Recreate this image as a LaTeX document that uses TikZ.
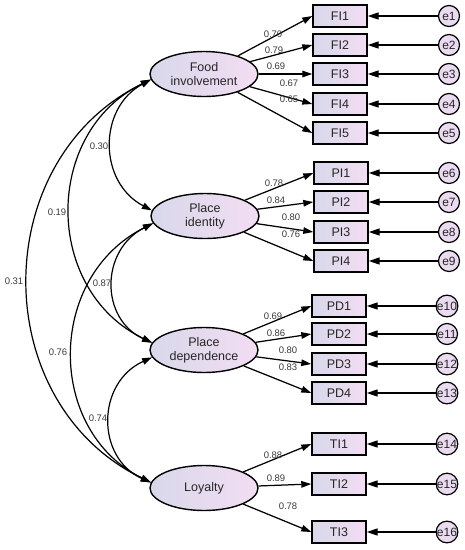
\documentclass[tikz,border=0pt]{standalone}
\usepackage{fontspec}
\setmainfont{Liberation Sans}
\usetikzlibrary{arrows.meta,shapes.geometric}
\definecolor{txt}{HTML}{262626}
\definecolor{lab}{HTML}{3A3A3A}
\definecolor{fl}{HTML}{D8D8EA}
\definecolor{fr}{HTML}{F3DDF3}
\tikzset{
  latent/.style={ellipse, draw=black, line width=1.4pt, minimum width=108pt, minimum height=45pt,
    inner sep=0pt, left color=fl, right color=fr, text=txt, font=\fontsize{12.5}{14}\selectfont, align=center},
  obs/.style={rectangle, draw=black, line width=1.4pt, minimum width=54pt, minimum height=22pt,
    inner sep=0pt, left color=fl, right color=fr, text=txt, font=\fontsize{12.5}{13}\selectfont},
  err/.style={circle, draw=black, line width=1.2pt, minimum size=21pt, inner sep=0pt,
    fill=fr!70!fl, text=txt, font=\fontsize{12}{12}\selectfont},
  load/.style={-{Triangle[length=10pt,width=6.5pt]}, line width=1.25pt},
  erra/.style={-{Triangle[length=11pt,width=7pt]}, line width=1.25pt},
  cov/.style={{Triangle[length=10pt,width=6.5pt]}-{Triangle[length=10pt,width=6.5pt]}, line width=1.2pt},
  num/.style={text=lab, font=\fontsize{9.5}{10}\selectfont, inner sep=0pt}
}
\begin{document}
\begin{tikzpicture}[x=1pt,y=-1pt]
\useasboundingbox (0,0) rectangle (465,550);
% latent variables
\node[latent] (FI) at (204,74) {Food\\involvement};
\node[latent] (PI) at (205,216) {Place\\identity};
\node[latent] (PD) at (204,350) {Place\\dependence};
\node[latent] (LO) at (204,488) {Loyalty};
% observed
\foreach \n/\y in {1/16,2/45,3/74,4/104,5/133}{
  \node[obs] (FI\n) at (340,\y) {FI\n};
  \node[err] (e\n) at (449,\y) {e\n};
  \draw[erra] (e\n) -- (FI\n.east);
  \draw[load] (FI) -- (FI\n.west);
}
\foreach \n/\y/\e in {1/173/6,2/202/7,3/232/8,4/261/9}{
  \node[obs] (PI\n) at (341,\y) {PI\n};
  \node[err] (e\e) at (449,\y) {e\e};
  \draw[erra] (e\e) -- (PI\n.east);
  \draw[load] (PI) -- (PI\n.west);
}
\foreach \n/\y/\e in {1/306/10,2/334/11,3/364/12,4/393/13}{
  \node[obs] (PD\n) at (339,\y) {PD\n};
  \node[err] (e\e) at (447,\y) {e\e};
  \draw[erra] (e\e) -- (PD\n.east);
  \draw[load] (PD) -- (PD\n.west);
}
\foreach \n/\y/\e in {1/444/14,2/484/15,3/532/16}{
  \node[obs] (TI\n) at (339,\y) {TI\n};
  \node[err] (e\e) at (447,\y) {e\e};
  \draw[erra] (e\e) -- (TI\n.east);
  \draw[load] (LO) -- (TI\n.west);
}
% loading labels
\node[num] at (273,34) {0.70};
\node[num] at (274,50) {0.79};
\node[num] at (276,66) {0.69};
\node[num] at (289,83) {0.67};
\node[num] at (289,99) {0.65};
\node[num] at (274,183) {0.78};
\node[num] at (276,200) {0.84};
\node[num] at (291,217) {0.80};
\node[num] at (291,234) {0.76};
\node[num] at (273,316) {0.69};
\node[num] at (276,333) {0.86};
\node[num] at (288,350) {0.80};
\node[num] at (288,367) {0.83};
\node[num] at (273,455) {0.88};
\node[num] at (276,478) {0.89};
\node[num] at (288,506) {0.78};
% covariances
\draw[cov] (FI.186) .. controls (98,108) and (98,182) .. (PI.174);
\draw[cov] (FI.186) .. controls (43,132) and (43,290) .. (PD.172);
\draw[cov] (FI.186) .. controls (-13,160) and (-13,403) .. (LO.174);
\draw[cov] (PI.188) .. controls (100,250) and (100,319) .. (PD.172);
\draw[cov] (PI.188) .. controls (46,277) and (46,431) .. (LO.174);
\draw[cov] (PD.188) .. controls (96,383) and (96,458) .. (LO.174);
\node[num] at (99,146) {0.30};
\node[num] at (57,212) {0.19};
\node[num] at (14,281) {0.31};
\node[num] at (102,283) {0.87};
\node[num] at (58,352) {0.76};
\node[num] at (98,418) {0.74};
\end{tikzpicture}
\end{document}
